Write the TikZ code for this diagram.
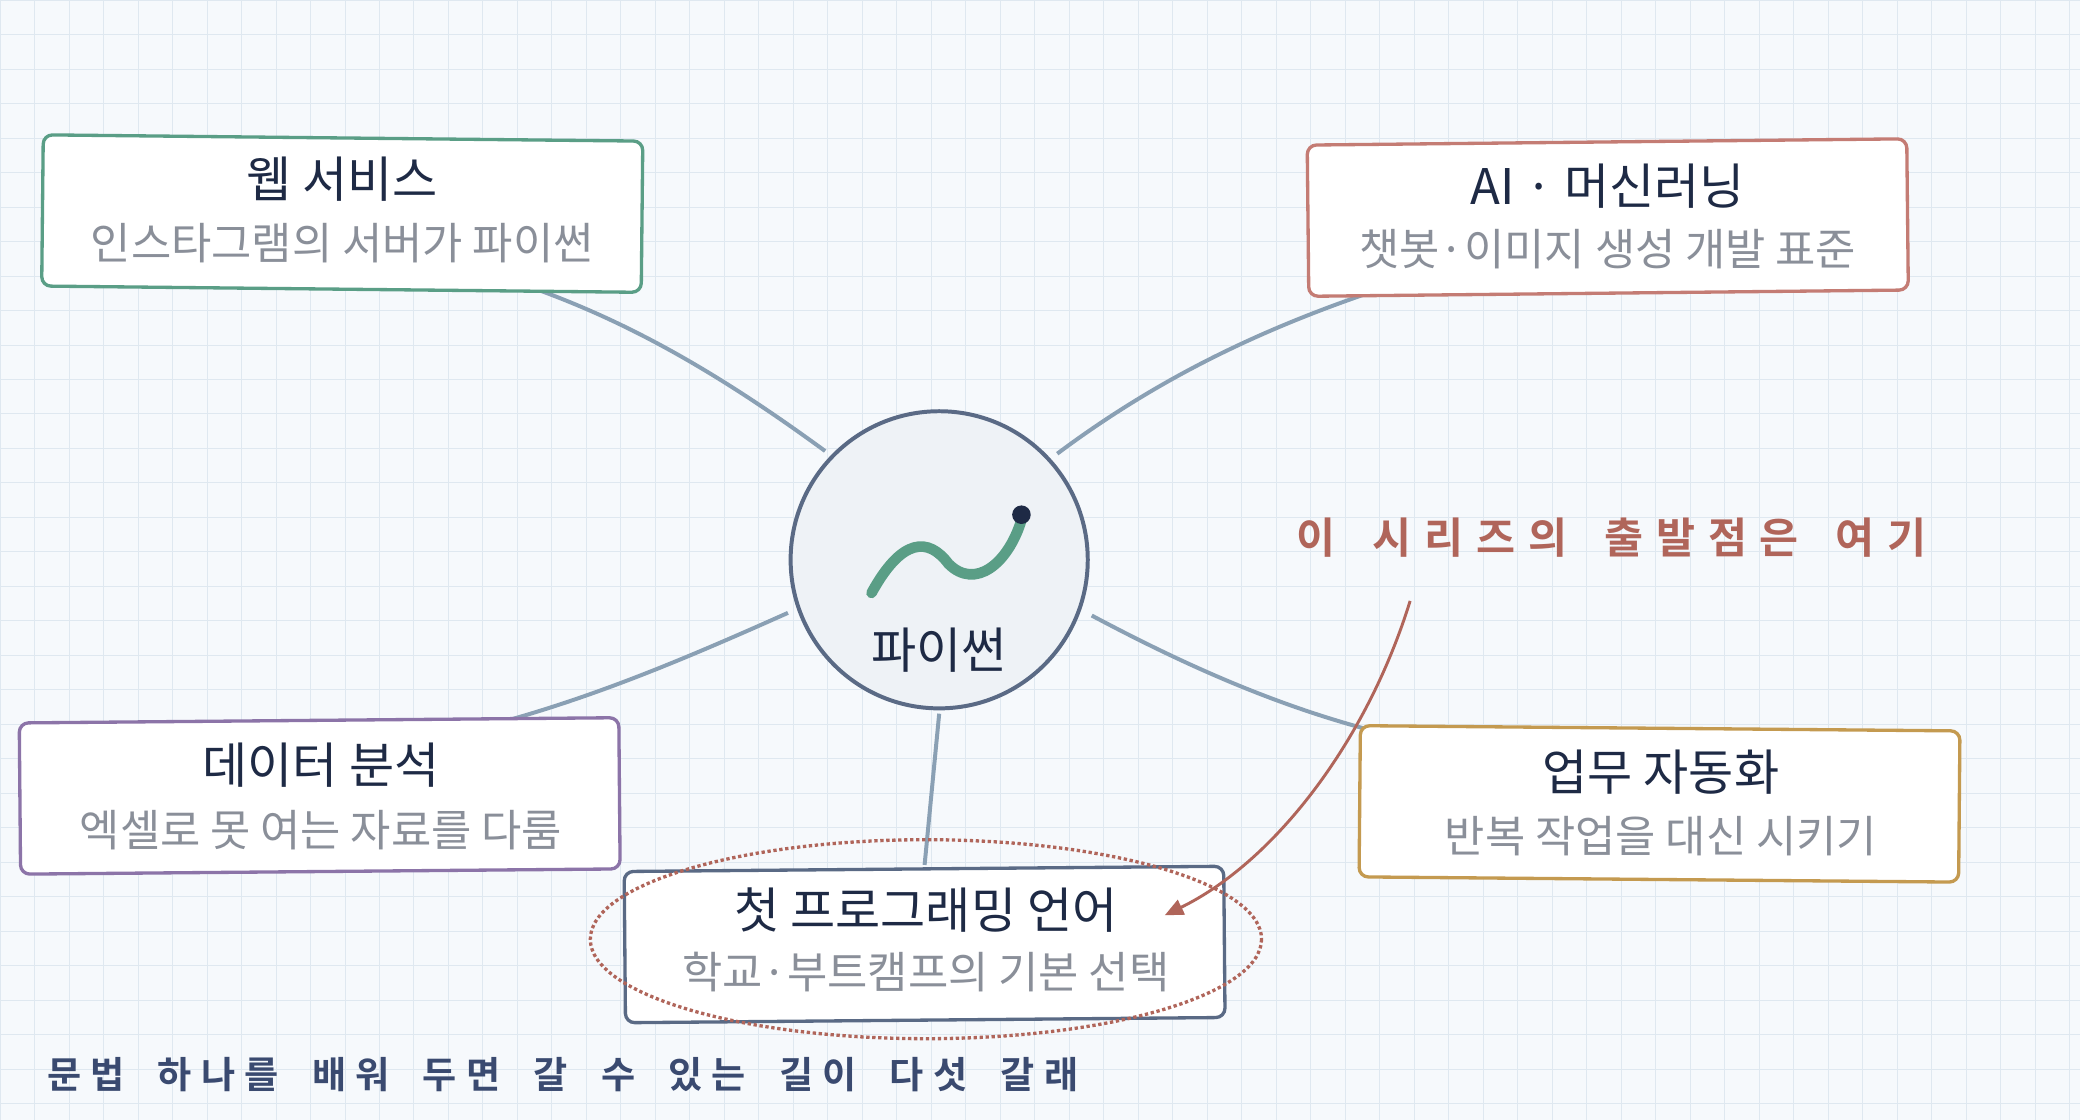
\documentclass[tikz,border=0pt]{standalone}
\usepackage{fontspec}
\newfontfamily\kr{Noto Sans CJK KR}
\newfontfamily\krb[LetterSpace=30]{Noto Sans CJK KR Bold}
\newfontfamily\krf[LetterSpace=25]{Noto Sans CJK KR Bold}
\newcommand\wg{\hspace{28pt}}
\newcommand\wf{\hspace{25pt}}
\usetikzlibrary{arrows.meta}
\definecolor{bg}{HTML}{F6F9FC}
\definecolor{gridc}{HTML}{DFE8F0}
\definecolor{ttl}{HTML}{1E2A45}
\definecolor{sub}{HTML}{8A8F99}
\definecolor{conn}{HTML}{8AA0B4}
\definecolor{cg}{HTML}{5A9E86}
\definecolor{cr}{HTML}{C47C74}
\definecolor{cp}{HTML}{8C74A8}
\definecolor{cy}{HTML}{C49A50}
\definecolor{cn}{HTML}{5A6A85}
\definecolor{cfill}{HTML}{EEF2F6}
\definecolor{ann}{HTML}{B0655A}
\definecolor{navy}{HTML}{3A4A70}
\tikzset{
 box/.style={draw=#1,line width=2.5pt,rounded corners=7pt,fill=white,minimum width=452pt,minimum height=114pt},
 ttlt/.style={text=ttl,font=\kr\fontsize{37}{40}\selectfont},
 subt/.style={text=sub,font=\kr\fontsize{33}{36}\selectfont},
 con/.style={draw=conn,line width=3pt},
}
\begin{document}
\begin{tikzpicture}[x=1pt,y=-1pt]
\useasboundingbox (0,0) rectangle (1568,844);
\fill[bg] (0,0) rectangle (1568,844);
\foreach \x in {0,26,...,1568} \draw[gridc,line width=0.6pt] (\x,0)--(\x,844);
\foreach \y in {0,26,...,844} \draw[gridc,line width=0.6pt] (0,\y)--(1568,\y);
% connectors
\coordinate (w1) at (622,340); \coordinate (w2) at (390,213);
\coordinate (a1) at (797,342); \coordinate (a2) at (1040,218);
\coordinate (d1) at (594,462); \coordinate (d2) at (372,546);
\coordinate (u1) at (823,464); \coordinate (u2) at (1047,554);
\coordinate (f1) at (708,538); \coordinate (f2) at (697,652);
\draw[con] (w1) .. controls (540,280) and (470,240) .. (w2);
\draw[con] (a1) .. controls (880,280) and (960,245) .. (a2);
\draw[con] (d1) .. controls (520,495) and (450,525) .. (d2);
\draw[con] (u1) .. controls (900,505) and (970,535) .. (u2);
\draw[con] (f1) -- (f2);
% boxes
\node[box=cg,rotate=-0.6] (web) at (258,161) {};
\node[ttlt] at (258,135) {웹 서비스};
\node[subt] at (258,183) {인스타그램의 서버가 파이썬};
\node[box=cr,rotate=0.6] (ai) at (1212,164) {};
\node[ttlt] at (1212,140) {AI · 머신러닝};
\node[subt] at (1212,188) {챗봇·이미지 생성 개발 표준};
\node[box=cp,rotate=0.5] (data) at (241,600) {};
\node[ttlt] at (242,577) {데이터 분석};
\node[subt] at (242,626) {엑셀로 못 여는 자료를 다룸};
\node[box=cy,rotate=-0.5] (auto) at (1251,606) {};
\node[ttlt] at (1252,582) {업무 자동화};
\node[subt] at (1252,630) {반복 작업을 대신 시키기};
\node[box=cn,rotate=0.5] (first) at (697,712) {};
\node[ttlt] at (698,686) {첫 프로그래밍 언어};
\node[subt] at (698,733) {학교·부트캠프의 기본 선택};
\draw[ann,line width=2.5pt,dotted] (698,708) ellipse (253 and 75);
% center
\node[circle,draw=cn,line width=3pt,fill=cfill,minimum size=224pt] (py) at (708,422) {};
\draw[cg,line width=8pt,line cap=round] (657,447) .. controls (680,405) and (700,405) .. (715,425) .. controls (735,445) and (760,425) .. (770,392);
\fill[ttl] (770,388) circle (7);
\node[ttlt] at (708,490) {파이썬};
% annotations
\node[text=ann,font=\krb\fontsize{32}{34}\selectfont] (note) at (1215,405) {이\wg 시리즈의\wg 출발점은\wg 여기};
\coordinate (n1) at (1063,453);
\coordinate (n2) at (878,690);
\draw[ann,line width=2.2pt,-{Triangle[length=14pt,width=12pt]}] (n1) .. controls (1030,560) and (960,650) .. (n2);
\node[text=navy,font=\krf\fontsize{28}{30}\selectfont,anchor=west] (foot) at (32,810) {문법\wf 하나를\wf 배워\wf 두면\wf 갈\wf 수\wf 있는\wf 길이\wf 다섯\wf 갈래};
\end{tikzpicture}
\end{document}
